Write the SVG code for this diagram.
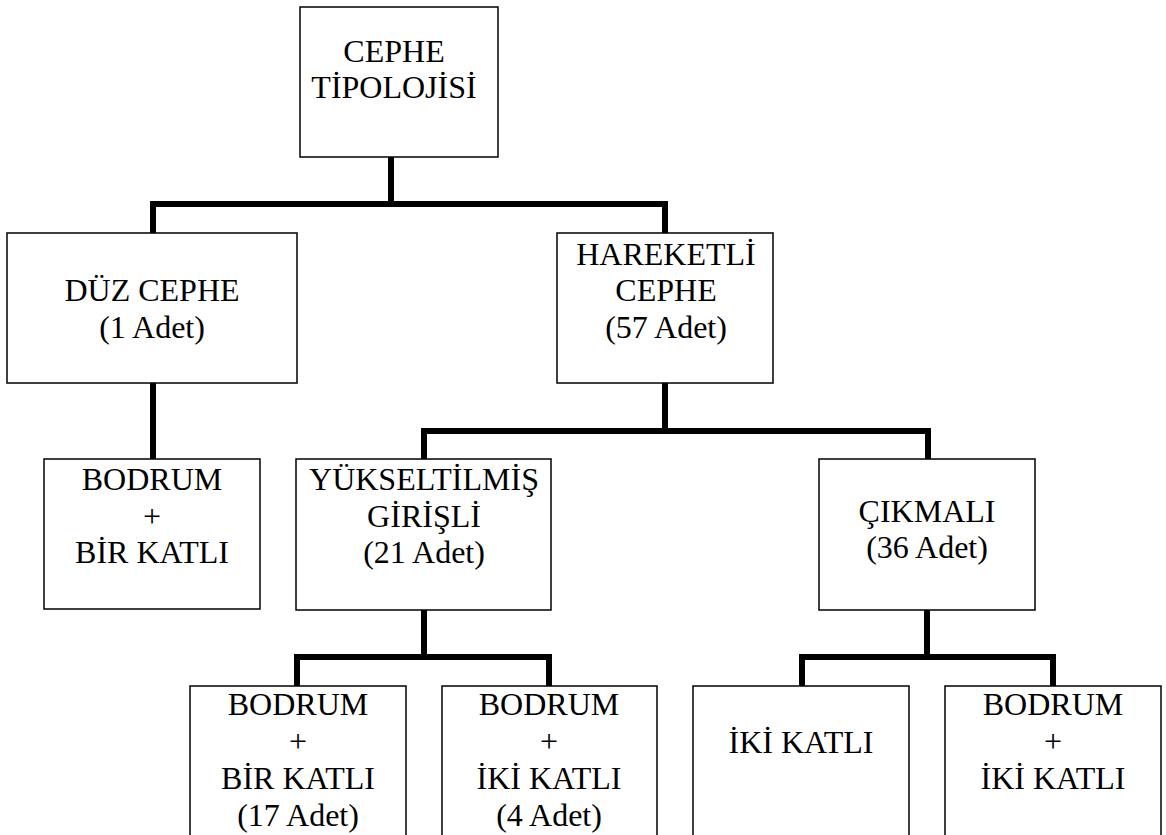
<svg xmlns="http://www.w3.org/2000/svg" width="1166" height="835" viewBox="0 0 1166 835">
<style>
.box{fill:#fff;stroke:#000;stroke-width:1.5}
text{font-family:'Liberation Serif','Times New Roman',serif;font-size:32px;fill:#000;text-anchor:middle}
.c{fill:none;stroke:#000;stroke-width:6;stroke-linejoin:miter}
</style>
<rect width="1166" height="835" fill="#fff"/>
<g id="connectors">
<path class="c" d="M391 157 V204"/>
<path class="c" d="M153 233 V204 H665 V233"/>
<path class="c" d="M153 383 V459"/>
<path class="c" d="M665 383 V431"/>
<path class="c" d="M424 459 V431 H928 V459"/>
<path class="c" d="M424 610 V657"/>
<path class="c" d="M297 686 V657 H549 V686"/>
<path class="c" d="M927 610 V657"/>
<path class="c" d="M802 686 V657 H1053 V686"/>
</g>
<g id="root">
<rect class="box" x="300" y="7" width="198" height="150"/>
<text x="394" y="62">CEPHE</text>
<text x="394" y="98">TİPOLOJİSİ</text>
</g>
<g id="duz">
<rect class="box" x="7" y="233" width="290" height="150"/>
<text x="152" y="301">DÜZ CEPHE</text>
<text x="152" y="338">(1 Adet)</text>
</g>
<g id="hareketli">
<rect class="box" x="557" y="233" width="216" height="150"/>
<text x="666" y="265">HAREKETLİ</text>
<text x="666" y="301">CEPHE</text>
<text x="666" y="338">(57 Adet)</text>
</g>
<g id="duz-bodrum">
<rect class="box" x="44" y="459" width="216" height="150"/>
<text x="152" y="490">BODRUM</text>
<text x="152" y="527">+</text>
<text x="152" y="563">BİR KATLI</text>
</g>
<g id="yukseltilmis">
<rect class="box" x="296" y="459" width="255" height="151"/>
<text x="424" y="490">YÜKSELTİLMİŞ</text>
<text x="424" y="527">GİRİŞLİ</text>
<text x="424" y="563">(21 Adet)</text>
</g>
<g id="cikmali">
<rect class="box" x="819" y="459" width="216" height="151"/>
<text x="927" y="522">ÇIKMALI</text>
<text x="927" y="558">(36 Adet)</text>
</g>
<g id="y-bodrum-bir">
<rect class="box" x="190" y="686" width="216" height="160"/>
<text x="298" y="715">BODRUM</text>
<text x="298" y="752">+</text>
<text x="298" y="789">BİR KATLI</text>
<text x="298" y="826">(17 Adet)</text>
</g>
<g id="y-bodrum-iki">
<rect class="box" x="442" y="686" width="215" height="160"/>
<text x="549" y="715">BODRUM</text>
<text x="549" y="752">+</text>
<text x="549" y="789">İKİ KATLI</text>
<text x="549" y="826">(4 Adet)</text>
</g>
<g id="c-iki">
<rect class="box" x="693" y="686" width="216" height="160"/>
<text x="801" y="753">İKİ KATLI</text>
</g>
<g id="c-bodrum-iki">
<rect class="box" x="945" y="686" width="216" height="160"/>
<text x="1053" y="715">BODRUM</text>
<text x="1053" y="752">+</text>
<text x="1053" y="789">İKİ KATLI</text>
</g>
</svg>
